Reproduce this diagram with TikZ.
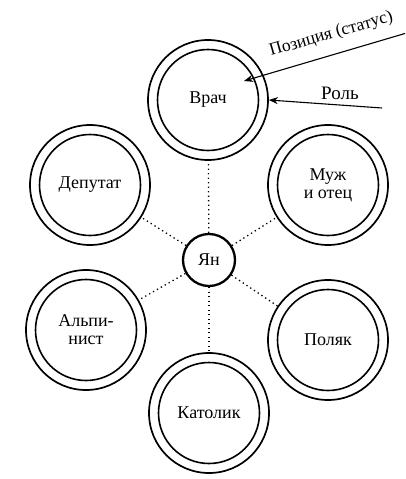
\documentclass[tikz,border=0pt]{standalone}
\usepackage{fontspec}
\setmainfont{Liberation Serif}
\usetikzlibrary{arrows.meta}
\tikzset{
  outerring/.style={circle, draw, line width=1.7pt, minimum size=120pt, inner sep=0pt},
  innerring/.style={circle, draw, line width=1.6pt, minimum size=101pt, inner sep=0pt, align=center, font=\fontsize{18}{20}\selectfont},
  hub/.style={circle, draw, line width=2.3pt, minimum size=52pt, inner sep=0pt, font=\fontsize{18}{20}\selectfont},
  link/.style={line width=1.3pt, dash pattern=on 1.3pt off 3.2pt},
  pointer/.style={line width=1.1pt, -{Stealth[length=9pt,width=7pt]}},
  lbl/.style={font=\fontsize{19}{21}\selectfont, inner sep=0pt},
  slantlbl/.style={font=\fontsize{17.5}{20}\selectfont, inner sep=0pt}
}
\begin{document}
\begin{tikzpicture}[x=1pt,y=-1pt]
\useasboundingbox (0,0) rectangle (405,479);
\clip (0,0) rectangle (405,479);
% hub
\node[hub] (ya) at (209,260) {Ян};
% role circles
\node[outerring] (vrach) at (208,100) {};
\node[innerring] (vrachin) at (208,100) {Врач};
\node[outerring] (deput) at (90,185) {};
\node[innerring] (deputin) at (90,185) {Депутат};
\node[outerring] (muzh) at (328,185) {};
\node[innerring] (muzhin) at (328,185) {Муж\\[-2pt]и отец};
\node[outerring] (alp) at (86,330) {};
\node[innerring] (alpin) at (86,330) {Альпи-\\[-2pt]нист};
\node[outerring] (pol) at (328,340) {};
\node[innerring] (polin) at (328,340) {Поляк};
\node[outerring] (kat) at (209,413) {};
\node[innerring] (katin) at (209,413) {Католик};
% dotted links
\draw[link] (ya) -- (vrach);
\draw[link] (ya) -- (deput);
\draw[link] (ya) -- (muzh);
\draw[link] (ya) -- (alp);
\draw[link] (ya) -- (pol);
\draw[link] (ya) -- (kat);
% annotations
\coordinate (posstart) at (410,32);
\coordinate (postip) at (244,81);
\draw[pointer] (posstart) -- (postip);
\node[slantlbl, anchor=base west, rotate=16] (postext) at (271,56) {Позиция (статус)};
\coordinate (rolestart) at (382,108);
\draw[pointer] (rolestart) -- (vrach.east);
\node[lbl, anchor=base west] (roletext) at (321,99) {Роль};
\end{tikzpicture}
\end{document}
